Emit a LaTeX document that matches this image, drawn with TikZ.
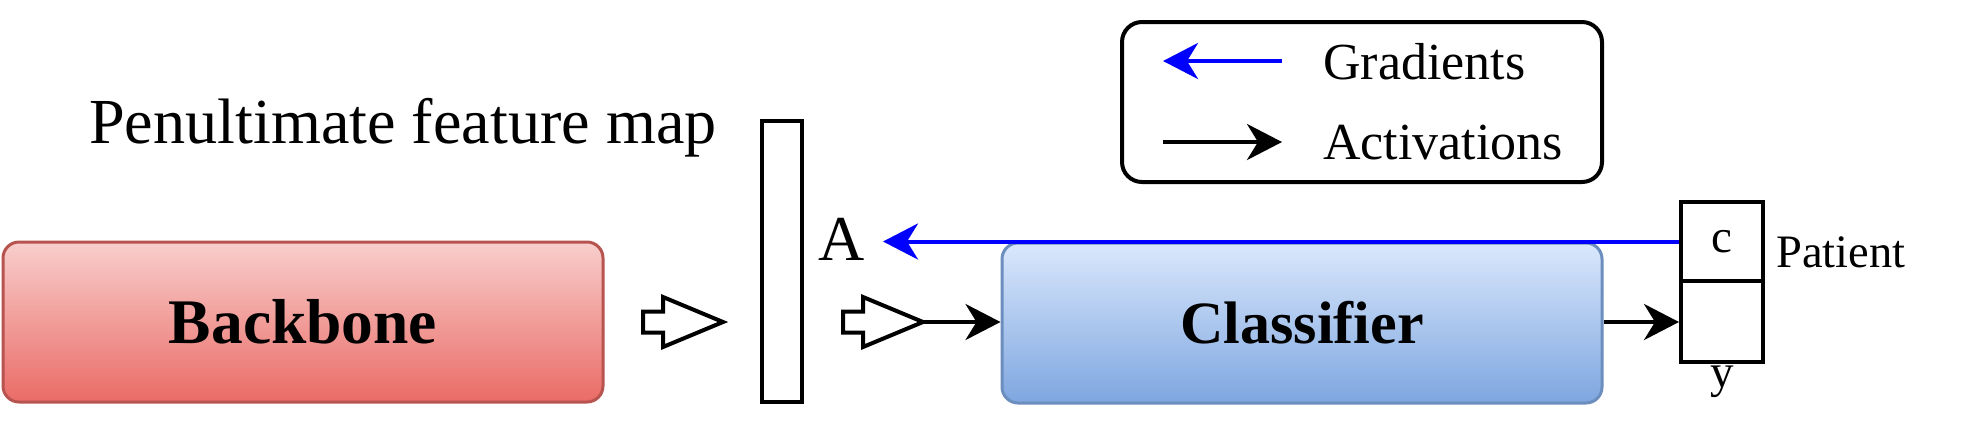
\documentclass[tikz,border=0pt]{standalone}
\usepackage{fontspec}
\setmainfont{Liberation Serif}
\usetikzlibrary{arrows.meta}
\definecolor{bbtop}{HTML}{F8CECC}
\definecolor{bbbot}{HTML}{EA6B66}
\definecolor{bbline}{HTML}{B85450}
\definecolor{cltop}{HTML}{DAE8FC}
\definecolor{clbot}{HTML}{7EA6E0}
\definecolor{clline}{HTML}{6C8EBF}
\definecolor{gradblue}{HTML}{0000FF}
\begin{document}
\begin{tikzpicture}[x=1pt,y=-1pt,
  bigbox/.style={draw, rounded corners=16pt, line width=3pt, minimum width=600pt, minimum height=160pt, inner sep=0pt},
  plainrect/.style={draw, line width=4pt, inner sep=0pt},
  lbl/.style={inner sep=0pt},
  tipstyle/.style={-{Stealth[length=35pt,width=36pt,inset=11pt]}},
  actarrow/.style={tipstyle, line width=4pt, black},
  gradarrow/.style={tipstyle, line width=4pt, gradblue},
  hollow/.style={draw, line width=4pt, line join=miter, fill=white}
]
\useasboundingbox (0,0) rectangle (1964,432);

% main blocks
\node[bigbox, top color=bbtop, bottom color=bbbot, draw=bbline, font=\fontsize{63.5}{70}\selectfont\bfseries] (bb) at (303,322) {Backbone};
\node[bigbox, top color=cltop, bottom color=clbot, draw=clline, font=\fontsize{60}{70}\selectfont\bfseries] (cls) at (1302,323) {Classif\kern0pt ier};

% feature map
\node[plainrect, minimum width=40pt, minimum height=281pt] (fm) at (782,261.5) {};
\node[lbl, anchor=base west, font=\fontsize{64.2}{70}\selectfont] (pen) at (89,143) {Penultimate feature map};
\node[lbl, anchor=base, font=\fontsize{64}{70}\selectfont] (A) at (842,260) {A};

% output cells
\node[plainrect, minimum width=82pt, minimum height=79pt, font=\fontsize{47}{50}\selectfont] (c) at (1722,241.5) {c};
\node[plainrect, minimum width=82pt, minimum height=81pt] (ycell) at (1722,321.5) {};
\node[lbl, anchor=base, font=\fontsize{47}{50}\selectfont] (ylab) at (1722,387) {y};
\node[lbl, anchor=base west, font=\fontsize{46.5}{50}\selectfont] (pat) at (1776,267) {Patient};

% hollow arrows
\draw[hollow] (643,311.5) -- (663,311.5) -- (663,297) -- (723,322) -- (663,347) -- (663,332.5) -- (643,332.5) -- cycle;
\draw[hollow] (843,311.5) -- (863,311.5) -- (863,297) -- (923,322) -- (863,347) -- (863,332.5) -- (843,332.5) -- cycle;
\coordinate (h2tip) at (923,322);

% connectors
\draw[actarrow] (h2tip) -- (cls.west |- h2tip);
\draw[actarrow] (cls.east |- h2tip) -- (ycell.west |- h2tip);
\coordinate (gtip) at (883,241.5);
\draw[gradarrow] (c.west) -- (gtip);

% legend
\node[draw, rounded corners=20pt, line width=4pt, minimum width=480pt, minimum height=160pt, inner sep=0pt] (leg) at (1362,102) {};
\coordinate (g1) at (1282,61);
\coordinate (g2) at (1163,61);
\coordinate (a1) at (1163,142);
\coordinate (a2) at (1282,142);
\draw[gradarrow] (g1) -- (g2);
\draw[actarrow] (a1) -- (a2);
\node[lbl, anchor=base west, font=\fontsize{52}{60}\selectfont] (gradtxt) at (1323,79) {Gradients};
\node[lbl, anchor=base west, font=\fontsize{52}{60}\selectfont] (acttxt) at (1323,159) {Activations};
\end{tikzpicture}
\end{document}
